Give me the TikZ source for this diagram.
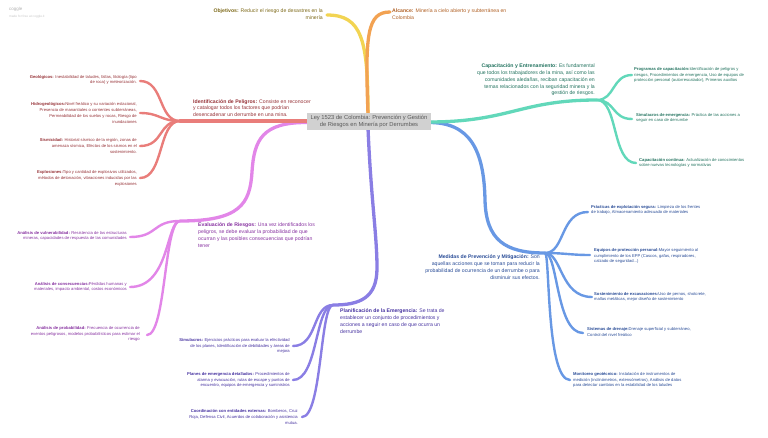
\documentclass[tikz,border=0pt]{standalone}
\usepackage{fontspec}
\setmainfont{Liberation Sans}
\definecolor{cred}{RGB}{233,125,122}
\definecolor{tred}{RGB}{150,50,55}
\definecolor{cpur}{RGB}{226,134,232}
\definecolor{tpur}{RGB}{135,50,160}
\definecolor{cpla}{RGB}{138,126,228}
\definecolor{tpla}{RGB}{70,50,160}
\definecolor{ctea}{RGB}{98,216,186}
\definecolor{ttea}{RGB}{35,115,95}
\definecolor{cblu}{RGB}{104,152,228}
\definecolor{tblu}{RGB}{40,75,150}
\definecolor{cyel}{RGB}{242,212,82}
\definecolor{tyel}{RGB}{125,105,25}
\definecolor{cora}{RGB}{242,162,82}
\definecolor{tora}{RGB}{175,95,35}
\begin{document}
\begin{tikzpicture}[x=1pt,y=-1pt,
  mainbr/.style={line width=3.3, line cap=round},
  leafbr/.style={line width=2.4, line cap=round},
  leafL/.style={anchor=east, align=right, inner sep=0, font=\fontsize{4.15}{5.7}\selectfont},
  leafR/.style={anchor=west, align=left, inner sep=0, font=\fontsize{4.15}{5.7}\selectfont},
  mainL/.style={anchor=east, align=right, inner sep=0, font=\fontsize{5.15}{6.8}\selectfont},
  mainR/.style={anchor=west, align=left, inner sep=0, font=\fontsize{5.15}{6.8}\selectfont},
  rootbox/.style={fill=black!18, text=black!65, minimum width=124, minimum height=17, inner sep=0, align=center, font=\fontsize{5.8}{7.8}\selectfont}
]
\useasboundingbox (0,0) rectangle (768,437);

% watermark
\node[anchor=west, inner sep=0, text=black!30, font=\fontsize{4.5}{5}\selectfont] (wm1) at (9,9) {coggle};
\node[anchor=west, inner sep=0, text=black!22, font=\fontsize{3.2}{4}\selectfont] (wm2) at (9,16.5) {made for free at coggle.it};

% coordinates
\coordinate (rT) at (368,114);
\coordinate (rL) at (308,121);
\coordinate (rBL) at (308,122.5);
\coordinate (rB) at (368,128);
\coordinate (rR) at (428,122);
\coordinate (rRB) at (428,122.5);
\coordinate (yE) at (327,15);
\coordinate (oE) at (390,12);
\coordinate (hRed) at (180,121);
\coordinate (hPur) at (180,221);
\coordinate (hPla) at (333,305);
\coordinate (hTea) at (597,100);
\coordinate (hBlu) at (545,253);
\coordinate (bMid) at (485,200);
\coordinate (pMid) at (252,172);
\coordinate (lMid) at (377,268);

% leaf end coordinates
\coordinate (eGeo) at (140,81);
\coordinate (eHid) at (140,113);
\coordinate (eSis) at (140,146);
\coordinate (eExp) at (140,178);
\coordinate (eVul) at (130,237);
\coordinate (eCon) at (130,287);
\coordinate (ePro) at (147,335);
\coordinate (eSim) at (293,346);
\coordinate (ePla) at (293,380);
\coordinate (eCoo) at (302,417);
\coordinate (ePrg) at (632,75);
\coordinate (eSem) at (632,119);
\coordinate (eCco) at (636,163);
\coordinate (ePra) at (588,212);
\coordinate (eEqu) at (590,255);
\coordinate (eSos) at (592,297);
\coordinate (eSid) at (583,333);
\coordinate (eMon) at (570,380);

% main branches
\draw[mainbr, cyel] (rT) .. controls (368,40) and (362,15) .. (yE);
\draw[mainbr, cora] (rT) .. controls (365,35) and (367,12) .. (oE);
\draw[mainbr, cpur] (rBL) .. controls (262,122) and (254,140) .. (pMid) .. controls (250,204) and (240,221) .. (hPur);
\draw[mainbr, cred] (rL) -- (hRed);
\draw[mainbr, cpla] (rB) .. controls (371,200) and (377,235) .. (lMid) .. controls (377,298) and (360,305) .. (hPla);
\draw[mainbr, cblu] (rRB) .. controls (470,122) and (484,150) .. (bMid) .. controls (486,240) and (505,253) .. (hBlu);
\draw[mainbr, ctea] (rR) .. controls (510,122) and (520,100) .. (hTea);

% leaves red
\draw[leafbr, cred] (hRed) .. controls (158,121) and (164,81) .. (eGeo);
\draw[leafbr, cred] (hRed) .. controls (160,121) and (160,113) .. (eHid);
\draw[leafbr, cred] (hRed) .. controls (158,121) and (164,146) .. (eSis);
\draw[leafbr, cred] (hRed) .. controls (158,121) and (164,178) .. (eExp);
% leaves purple
\draw[leafbr, cpur] (hPur) .. controls (152,221) and (158,237) .. (eVul);
\draw[leafbr, cpur] (hPur) .. controls (166,221) and (170,287) .. (eCon);
\draw[leafbr, cpur] (hPur) .. controls (164,221) and (166,335) .. (ePro);
% leaves plan
\draw[leafbr, cpla] (hPla) .. controls (312,305) and (318,346) .. (eSim);
\draw[leafbr, cpla] (hPla) .. controls (315,305) and (318,380) .. (ePla);
\draw[leafbr, cpla] (hPla) .. controls (320,305) and (322,417) .. (eCoo);
% leaves teal
\draw[leafbr, ctea] (hTea) .. controls (615,100) and (612,75) .. (ePrg);
\draw[leafbr, ctea] (hTea) .. controls (615,100) and (612,119) .. (eSem);
\draw[leafbr, ctea] (hTea) .. controls (618,100) and (612,163) .. (eCco);
% leaves blue
\draw[leafbr, cblu] (hBlu) .. controls (565,253) and (560,212) .. (ePra);
\draw[leafbr, cblu] (hBlu) .. controls (565,253) and (570,255) .. (eEqu);
\draw[leafbr, cblu] (hBlu) .. controls (562,253) and (560,297) .. (eSos);
\draw[leafbr, cblu] (hBlu) .. controls (558,253) and (556,333) .. (eSid);
\draw[leafbr, cblu] (hBlu) .. controls (550,253) and (546,380) .. (eMon);

% root
\node[rootbox] (root) at (369,121.5) {Ley 1523 de Colombia: Prevención y Gestión\\de Riesgos en Minería por Derrumbes};

% main texts
\node[mainL, text=tyel] (obj) at (323,14.5) {\textbf{Objetivos:} Reducir el riesgo de desastres en la\\minería};
\node[mainR, text=tora] (alc) at (392,14.5) {\textbf{Alcance:} Minería a cielo abierto y subterránea en\\Colombia};
\node[mainR, text=tred] (ide) at (193,108) {\textbf{Identificación de Peligros:} Consiste en reconocer\\y catalogar todos los factores que podrían\\desencadenar un derrumbe en una mina.};
\node[mainR, text=tpur] (eva) at (198,235) {\textbf{Evaluación de Riesgos:} Una vez identificados los\\peligros, se debe evaluar la probabilidad de que\\ocurran y las posibles consecuencias que podrían\\tener};
\node[mainR, text=tpla] (pla) at (340,321) {\textbf{Planificación de la Emergencia:} Se trata de\\establecer un conjunto de procedimientos y\\acciones a seguir en caso de que ocurra un\\derrumbe};
\node[mainL, text=ttea] (cap) at (595,80) {\textbf{Capacitación y Entrenamiento:} Es fundamental\\que todos los trabajadores de la mina, así como las\\comunidades aledañas, reciban capacitación en\\temas relacionados con la seguridad minera y la\\gestión de riesgos.};
\node[mainL, text=tblu] (med) at (540,267) {\textbf{Medidas de Prevención y Mitigación:} Son\\aquellas acciones que se toman para reducir la\\probabilidad de ocurrencia de un derrumbe o para\\disminuir sus efectos.};

% leaf texts red
\node[leafL, text=tred] (geo) at (137,80) {\textbf{Geológicos:} Inestabilidad de taludes, fallas, litología (tipo\\de roca) y meteorización.};
\node[leafL, text=tred] (hid) at (137,113) {\textbf{Hidrogeológicos:}Nivel freático y su variación estacional,\\Presencia de manantiales o corrientes subterráneas,\\Permeabilidad de los suelos y rocas, Riesgo de\\inundaciones};
\node[leafL, text=tred] (sis) at (137,146) {\textbf{Sismicidad:} Historial sísmico de la región, zonas de\\amenaza sísmica, Efectos de los sismos en el\\sostenimiento.};
\node[leafL, text=tred] (exp) at (137,178.5) {\textbf{Explosiones:}Tipo y cantidad de explosivos utilizados,\\métodos de detonación, vibraciones inducidas por las\\explosiones};
% leaf texts purple
\node[leafL, text=tpur] (vul) at (127,236) {\textbf{Análisis de vulnerabilidad:} Resistencia de las estructuras\\mineras, capacidades de respuesta de las comunidades};
\node[leafL, text=tpur] (con) at (127,287) {\textbf{Análisis de consecuencias:}Pérdidas humanas y\\materiales, impacto ambiental, costos económicos};
\node[leafL, text=tpur] (pro) at (140,334) {\textbf{Análisis de probabilidad:} Frecuencia de ocurrencia de\\eventos peligrosos, modelos probabilísticos para estimar el\\riesgo};
% leaf texts plan
\node[leafL, text=tpla] (sim) at (290,346) {\textbf{Simulacros:} Ejercicios prácticos para evaluar la efectividad\\de los planes, Identificación de debilidades y áreas de\\mejora};
\node[leafL, text=tpla] (pln) at (290,380) {\textbf{Planes de emergencia detallados:} Procedimientos de\\alarma y evacuación, rutas de escape y puntos de\\encuentro, equipos de emergencia y suministros};
\node[leafL, text=tpla] (coo) at (298,417) {\textbf{Coordinación con entidades externas:} Bomberos, Cruz\\Roja, Defensa Civil, Acuerdos de colaboración y asistencia\\mutua.};
% leaf texts teal
\node[leafR, text=ttea] (prg) at (634,75) {\textbf{Programas de capacitación:}Identificación de peligros y\\riesgos, Procedimientos de emergencia, Uso de equipos de\\protección personal (autorrescatador), Primeros auxilios};
\node[leafR, text=ttea] (sem) at (636,118) {\textbf{Simulacros de emergencia:} Práctica de las acciones a\\seguir en caso de derrumbe};
\node[leafR, text=ttea] (cco) at (639,163) {\textbf{Capacitación continua:} Actualización de conocimientos\\sobre nuevas tecnologías y normativas};
% leaf texts blue
\node[leafR, text=tblu] (pra) at (591,210) {\textbf{Prácticas de explotación segura:} Limpieza de los frentes\\de trabajo, Almacenamiento adecuado de materiales};
\node[leafR, text=tblu] (equ) at (594,256) {\textbf{Equipos de protección personal:}Mayor seguimiento al\\cumplimiento de los EPP (Cascos, gafas, respiradores,\\calzado de seguridad...)};
\node[leafR, text=tblu] (sos) at (594,297) {\textbf{Sostenimiento de excavaciones:}Uso de pernos, shotcrete,\\mallas metálicas, mejor diseño de sostenimiento};
\node[leafR, text=tblu] (sid) at (587,332) {\textbf{Sistemas de drenaje:}Drenaje superficial y subterráneo,\\Control del nivel freático};
\node[leafR, text=tblu] (mon) at (573,380) {\textbf{Monitoreo geotécnico:} Instalación de instrumentos de\\medición (inclinómetros, extensómetros), Análisis de datos\\para detectar cambios en la estabilidad de los taludes};
\end{tikzpicture}
\end{document}
